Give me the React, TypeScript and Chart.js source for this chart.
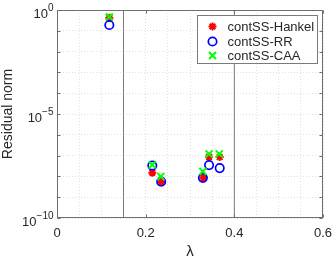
import React, { useEffect, useRef } from 'react';
import { Chart, registerables } from 'chart.js';

Chart.register(...registerables);

// ---- data ----
const seriesLabels = ['contSS-Hankel', 'contSS-RR', 'contSS-CAA'];
const xHankel = [0.118, 0.215, 0.235, 0.330, 0.343, 0.367];
const yHankel = [0.42, 1.5e-8, 5.4e-9, 8.5e-9, 8.7e-8, 8.5e-8];
const xRR = [0.118, 0.215, 0.235, 0.329, 0.343, 0.367];
const yRR = [0.19, 3.3e-8, 5.6e-9, 8.5e-9, 3.5e-8, 2.5e-8];
const xCAA = [0.118, 0.215, 0.234, 0.329, 0.343, 0.366];
const yCAA = [0.46, 3.6e-8, 1.0e-8, 1.74e-8, 1.2e-7, 1.2e-7];
const boundaryX = [0.15, 0.4];
const xTickValues = [0, 0.2, 0.4, 0.6];
const xTickLabels = ['0', '0.2', '0.4', '0.6'];
const yTickExponents = [0, -5, -10];
const xTitle = 'λ';
const yTitle = 'Residual norm';

const FONT = '"Liberation Sans", Arial, Helvetica, sans-serif';
const TEXT = '#262626';
const AXIS = '#6e6e6e';
const GRID = '#e0e0e0';

function drawMarker(ctx: CanvasRenderingContext2D, style: string, x: number, y: number, r: number, color: string, lw: number) {
  ctx.save();
  ctx.strokeStyle = color;
  ctx.lineWidth = lw;
  ctx.beginPath();
  if (style === 'circle') {
    ctx.arc(x, y, r, 0, Math.PI * 2);
  } else {
    const d = r * Math.SQRT1_2;
    if (style === 'star') {
      ctx.moveTo(x - r, y); ctx.lineTo(x + r, y);
      ctx.moveTo(x, y - r); ctx.lineTo(x, y + r);
    }
    ctx.moveTo(x - d, y - d); ctx.lineTo(x + d, y + d);
    ctx.moveTo(x - d, y + d); ctx.lineTo(x + d, y - d);
  }
  ctx.stroke();
  ctx.restore();
}

const matlabPlugin = {
  id: 'matlabAxes',
  afterDatasetsDraw(chart: any) {
    const { ctx, chartArea: a, scales } = chart;
    const xs = scales.x, ys = scales.y;
    const L = Math.round(a.left) + 0.5, R = Math.round(a.right) - 0.5;
    const T = Math.round(a.top) + 0.5, B = Math.round(a.bottom) - 0.5;
    ctx.save();
    ctx.strokeStyle = AXIS;
    ctx.lineWidth = 1;
    ctx.strokeRect(L, T, R - L, B - T);
    ctx.beginPath();
    const tl = 3;
    xTickValues.forEach((v) => {
      const px = Math.round(xs.getPixelForValue(v)) + 0.5;
      ctx.moveTo(px, B); ctx.lineTo(px, B - tl);
      ctx.moveTo(px, T); ctx.lineTo(px, T + tl);
    });
    for (let e = -10; e <= 0; e++) {
      const py = Math.round(ys.getPixelForValue(Math.pow(10, e))) + 0.5;
      ctx.moveTo(L, py); ctx.lineTo(L + tl, py);
      ctx.moveTo(R, py); ctx.lineTo(R - tl, py);
    }
    ctx.stroke();

    // y tick labels with superscript exponents
    ctx.fillStyle = TEXT;
    ctx.textAlign = 'left';
    ctx.textBaseline = 'alphabetic';
    yTickExponents.forEach((e) => {
      const y = ys.getPixelForValue(Math.pow(10, e));
      const exp = e < 0 ? '\u2212' + Math.abs(e) : String(e);
      ctx.font = `10px ${FONT}`;
      const ew = ctx.measureText(exp).width;
      ctx.font = `13px ${FONT}`;
      const bw = ctx.measureText('10').width;
      const right = a.left - 3.5;
      ctx.fillText('10', right - ew - bw, y + 8);
      ctx.font = `10px ${FONT}`;
      ctx.fillText(exp, right - ew, y + 0.5);
    });
    ctx.restore();
  },
  afterDraw(chart: any) {
    const { ctx, chartArea: a } = chart;
    const w = 120, h = 48;
    const x0 = Math.round(a.right - 6 - w) + 0.5;
    const y0 = Math.round(a.top + 5) + 0.5;
    ctx.save();
    ctx.fillStyle = '#ffffff';
    ctx.fillRect(x0, y0, w, h);
    ctx.strokeStyle = '#7a7a7a';
    ctx.lineWidth = 1;
    ctx.strokeRect(x0, y0, w, h);
    const rows = [11, 26, 40];
    chart.data.datasets.slice(0, 3).forEach((ds: any, i: number) => {
      const cy = y0 + rows[i];
      drawMarker(ctx, ds.pointStyle, x0 + 15, cy, ds.pointRadius, ds.borderColor, ds.borderWidth);
      ctx.fillStyle = TEXT;
      ctx.font = `13px ${FONT}`;
      ctx.textAlign = 'left';
      ctx.textBaseline = 'middle';
      ctx.fillText(ds.label, x0 + 30, cy + 0.5);
    });
    ctx.restore();
  },
};

const toPoints = (xs: number[], ys: number[]) => xs.map((x, i) => ({ x, y: ys[i] }));

export default function App() {
  const ref = useRef<HTMLCanvasElement>(null);
  useEffect(() => {
    if (!ref.current) return;
    const chart = new Chart(ref.current, {
      type: 'scatter',
      data: {
        datasets: [
          {
            label: seriesLabels[0],
            data: toPoints(xHankel, yHankel),
            pointStyle: 'star',
            pointRadius: 4,
            borderColor: '#ff0000',
            backgroundColor: '#ff0000',
            borderWidth: 2,
            order: 2,
          },
          {
            label: seriesLabels[1],
            data: toPoints(xRR, yRR),
            pointStyle: 'circle',
            pointRadius: 4.2,
            borderColor: '#0000ff',
            backgroundColor: 'rgba(0,0,0,0)',
            borderWidth: 1.7,
            order: 1,
          },
          {
            label: seriesLabels[2],
            data: toPoints(xCAA, yCAA),
            pointStyle: 'crossRot',
            pointRadius: 5,
            borderColor: '#00ff00',
            backgroundColor: '#00ff00',
            borderWidth: 2,
            order: 0,
          },
          ...boundaryX.map((b) => ({
            label: 'boundary',
            data: [{ x: b, y: 1e-10 }, { x: b, y: 1 }],
            showLine: true,
            pointRadius: 0,
            borderColor: '#7a7a7a',
            borderWidth: 1,
            order: 10,
          })),
        ] as any,
      },
      options: {
        animation: false,
        responsive: false,
        layout: { padding: { top: 10, right: 9, left: 0, bottom: 0 } },
        plugins: { legend: { display: false }, tooltip: { enabled: false } },
        scales: {
          x: {
            type: 'linear',
            min: 0,
            max: 0.6,
            afterBuildTicks: (s: any) => {
              const t = [];
              for (let i = 0; i <= 12; i++) t.push({ value: i * 0.05 });
              s.ticks = t;
            },
            afterFit: (s: any) => { s.height = 40; s.paddingLeft = 0; s.paddingRight = 0; },
            ticks: {
              autoSkip: false,
              maxRotation: 0,
              padding: 8,
              color: TEXT,
              font: { family: FONT, size: 13 },
              callback: (v: any) => {
                const idx = xTickValues.findIndex((t) => Math.abs(t - Number(v)) < 1e-6);
                return idx >= 0 ? xTickLabels[idx] : '';
              },
            },
            grid: { color: GRID, drawTicks: false, lineWidth: 1 },
            border: { display: false, dash: [1, 2] },
            title: {
              display: true,
              text: xTitle,
              color: TEXT,
              font: { family: FONT, size: 15 },
              padding: { top: 0, bottom: -3 },
            },
          },
          y: {
            type: 'logarithmic',
            min: 1e-10,
            max: 1,
            afterBuildTicks: (s: any) => {
              const t = [];
              for (let e = -10; e <= 0; e++) t.push({ value: Math.pow(10, e) });
              s.ticks = t;
            },
            afterFit: (s: any) => { s.width = 57; s.paddingTop = 0; s.paddingBottom = 0; },
            ticks: { display: false },
            grid: { color: GRID, drawTicks: false, lineWidth: 1 },
            border: { display: false, dash: [1, 2] },
            title: {
              display: true,
              text: yTitle,
              color: TEXT,
              font: { family: FONT, size: 14 },
              padding: { top: 0, bottom: 0 },
            },
          },
        },
      },
      plugins: [matlabPlugin],
    } as any);
    return () => chart.destroy();
  }, []);
  return (
    <div style={{ position: 'fixed', left: 0, top: 0, width: 332, height: 258, background: '#fff' }}>
      <canvas ref={ref} width={332} height={258} style={{ display: 'block' }} />
    </div>
  );
}
